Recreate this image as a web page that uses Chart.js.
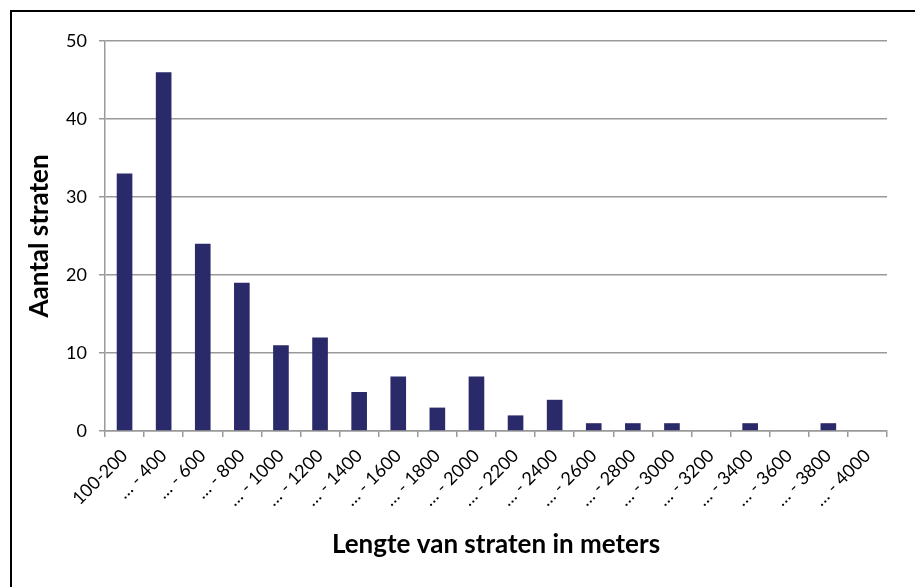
<!DOCTYPE html>
<html>
<head>
<meta charset="utf-8">
<script src="https://cdn.jsdelivr.net/npm/chart.js@4"></script>
<style>
  html, body { margin: 0; padding: 0; background: #fff; }
  #frame {
    position: absolute; left: 10px; top: 10px;
    width: 1000px; height: 700px;
    border: 2px solid #000;
  }
  #wrap { position: absolute; left: 0; top: 0; width: 915px; height: 587px; }
</style>
</head>
<body>
<div id="frame"></div>
<div id="wrap"><canvas id="chart" width="915" height="587"></canvas></div>
<script>
// lengte-klassen in meters en het aantal straten per klasse
const lengthClasses = [
  "100-200", "… - 400", "… - 600", "… - 800", "… - 1000",
  "… - 1200", "… - 1400", "… - 1600", "… - 1800", "… - 2000",
  "… - 2200", "… - 2400", "… - 2600", "… - 2800", "… - 3000",
  "… - 3200", "… - 3400", "… - 3600", "… - 3800", "… - 4000"
];
const streetCounts = [33, 46, 24, 19, 11, 12, 5, 7, 3, 7, 2, 4, 1, 1, 1, 0, 1, 0, 1, 0];
const yTicks = [0, 10, 20, 30, 40, 50];

const fontFamily = "Lato, 'Open Sans', sans-serif";
const gridColor = "#9a9a9a";

const ctx = document.getElementById("chart");
new Chart(ctx, {
  type: "bar",
  data: {
    labels: lengthClasses,
    datasets: [
      {
        label: "Aantal straten",
        data: streetCounts,
        backgroundColor: "#2a2a6a",
        categoryPercentage: 1,
        barPercentage: 0.4,
      },
    ],
  },
  options: {
    responsive: false,
    animation: false,
    layout: { padding: { top: 41, right: 28, left: 0, bottom: 0 } },
    plugins: { legend: { display: false }, tooltip: { enabled: false } },
    scales: {
      x: {
        grid: { drawOnChartArea: false, color: gridColor, lineWidth: 1.5, tickLength: 6, offset: true },
        border: { color: gridColor, width: 1.5 },
        ticks: {
          color: "#000",
          font: { family: fontFamily, size: 18 },
          minRotation: 45,
          maxRotation: 45,
          autoSkip: false,
          padding: 8,
        },
        title: {
          display: true,
          text: "Lengte van straten in meters",
          color: "#000",
          font: { family: fontFamily, size: 26, weight: "bold" },
          padding: { top: 0, bottom: 27 },
        },
        afterFit: (scale) => { scale.height = 156; },
      },
      y: {
        min: 0,
        max: 50,
        afterBuildTicks: (scale) => { scale.ticks = yTicks.map((v) => ({ value: v })); },
        grid: { color: gridColor, lineWidth: 1.5, tickLength: 6 },
        border: { color: gridColor, width: 1.5 },
        ticks: {
          color: "#000",
          font: { family: fontFamily, size: 18 },
          padding: 12,
        },
        title: {
          display: true,
          text: "Aantal straten",
          color: "#000",
          font: { family: fontFamily, size: 26, weight: "bold" },
          padding: { top: 24, bottom: 0 },
        },
        afterFit: (scale) => { scale.width = 105; },
      },
    },
  },
});
</script>
</body>
</html>
